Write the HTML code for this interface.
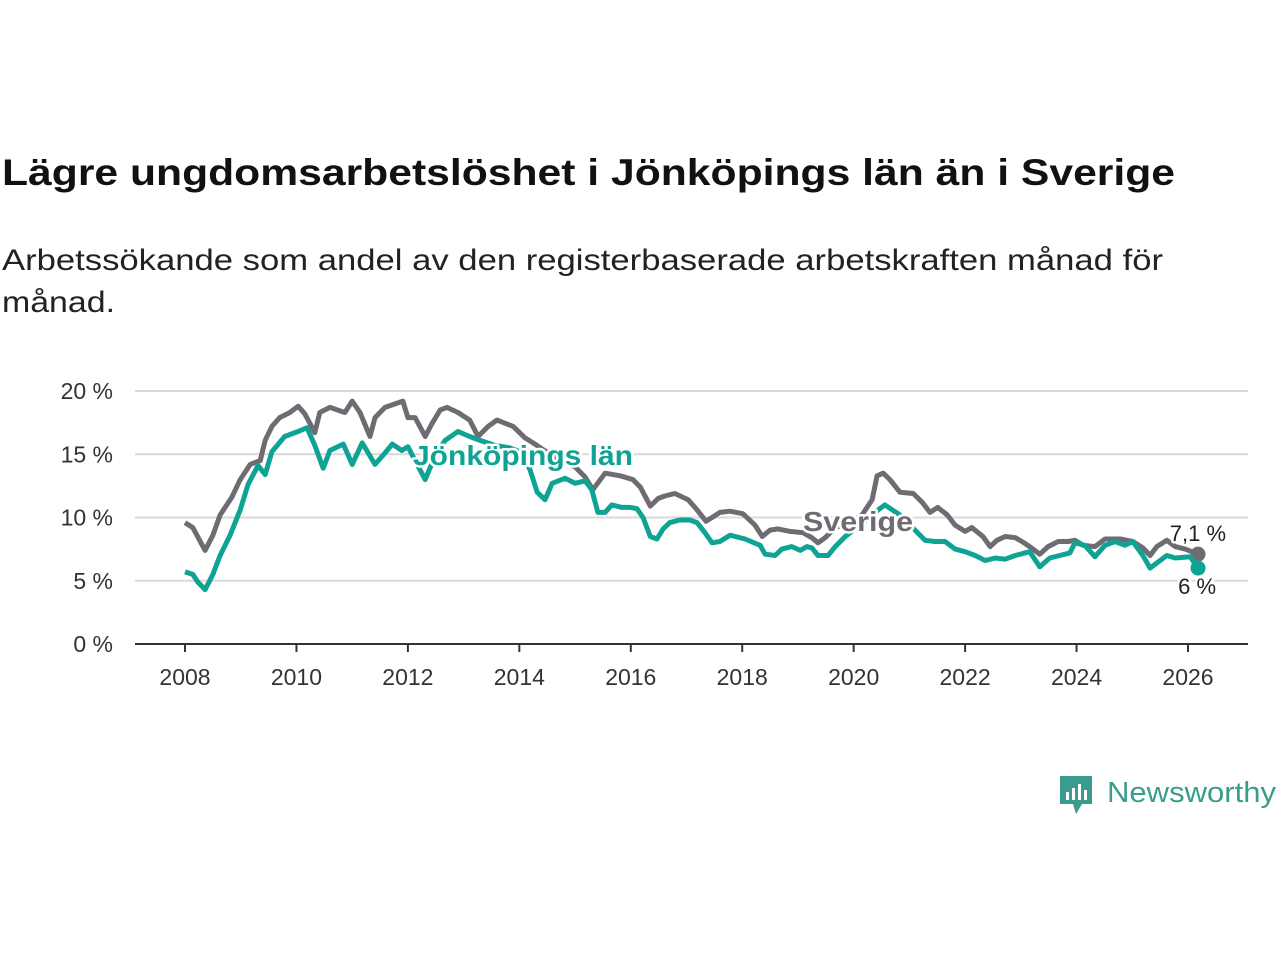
<!DOCTYPE html>
<html><head><meta charset="utf-8"><style>
html,body{margin:0;padding:0;background:#fff;}
svg{display:block;font-family:"Liberation Sans",sans-serif;}
</style></head><body>
<svg id="chart" width="1280" height="960" viewBox="0 0 1280 960" xmlns="http://www.w3.org/2000/svg">
<text x="2" y="185" font-size="37" font-weight="bold" fill="#111" textLength="1173" lengthAdjust="spacingAndGlyphs">Lägre ungdomsarbetslöshet i Jönköpings län än i Sverige</text>
<text x="2" y="270" font-size="30" fill="#222" textLength="1161" lengthAdjust="spacingAndGlyphs">Arbetssökande som andel av den registerbaserade arbetskraften månad för</text>
<text x="2" y="312" font-size="30" fill="#222" textLength="113" lengthAdjust="spacingAndGlyphs">månad.</text>
<g id="grid"></g>
<g id="xaxis"></g>
<g id="series"></g>
<g>
<path d="M1060 776 h32 v28 h-10 l-6 10 l-3 -10 h-13 z" fill="#3a9c8e"/>
<rect x="1066" y="792" width="3" height="8" fill="#fff"/><rect x="1072" y="788" width="3" height="12" fill="#fff"/><rect x="1078" y="784" width="3" height="16" fill="#fff"/><rect x="1084" y="790" width="3" height="10" fill="#fff"/>
<text x="1107" y="802" font-size="29" fill="#3a9c8e" textLength="169" lengthAdjust="spacingAndGlyphs">Newsworthy</text>
</g>
</svg>
<script>
const sverigeYears=[2008.00,2008.14,2008.36,2008.50,2008.63,2008.84,2008.99,2009.17,2009.35,2009.44,2009.56,2009.70,2009.88,2010.03,2010.15,2010.33,2010.42,2010.60,2010.87,2011.00,2011.14,2011.32,2011.41,2011.59,2011.91,2012.00,2012.13,2012.31,2012.43,2012.58,2012.70,2012.90,2013.11,2013.26,2013.44,2013.60,2013.89,2014.10,2014.28,2014.55,2014.73,2015.00,2015.18,2015.32,2015.54,2015.81,2016.04,2016.17,2016.35,2016.49,2016.61,2016.79,2017.03,2017.19,2017.35,2017.46,2017.60,2017.78,2018.01,2018.23,2018.36,2018.50,2018.64,2018.86,2019.09,2019.25,2019.36,2019.49,2019.67,2019.93,2020.15,2020.33,2020.42,2020.53,2020.65,2020.83,2021.07,2021.23,2021.37,2021.51,2021.68,2021.82,2022.00,2022.12,2022.32,2022.45,2022.57,2022.72,2022.90,2023.02,2023.16,2023.34,2023.49,2023.67,2023.85,2023.97,2024.12,2024.33,2024.51,2024.78,2025.01,2025.19,2025.32,2025.44,2025.62,2025.77,2025.95,2026.18];
const sverigeValues=[9.6,9.2,7.4,8.6,10.2,11.6,13.0,14.2,14.5,16.1,17.2,17.9,18.3,18.8,18.2,16.7,18.3,18.7,18.3,19.2,18.3,16.4,17.9,18.7,19.2,17.9,17.9,16.4,17.4,18.5,18.7,18.3,17.7,16.4,17.2,17.7,17.2,16.3,15.8,15.0,14.5,14.0,13.2,12.2,13.5,13.3,13.0,12.4,10.9,11.5,11.7,11.9,11.4,10.6,9.7,10.0,10.4,10.5,10.3,9.4,8.5,9.0,9.1,8.9,8.8,8.4,8.0,8.4,9.2,9.6,10.2,11.4,13.3,13.5,13.0,12.0,11.9,11.2,10.4,10.8,10.2,9.4,8.9,9.2,8.5,7.7,8.2,8.5,8.4,8.1,7.7,7.1,7.7,8.1,8.1,8.2,7.8,7.7,8.3,8.3,8.1,7.6,7.0,7.7,8.2,7.7,7.5,7.1];
const jkpYears=[2008.00,2008.14,2008.23,2008.36,2008.50,2008.63,2008.81,2008.99,2009.13,2009.31,2009.44,2009.56,2009.79,2010.03,2010.19,2010.33,2010.48,2010.60,2010.84,2011.00,2011.18,2011.41,2011.59,2011.72,2011.89,2012.00,2012.13,2012.31,2012.49,2012.67,2012.90,2013.11,2013.29,2013.56,2013.83,2014.01,2014.19,2014.32,2014.46,2014.59,2014.82,2015.00,2015.18,2015.30,2015.41,2015.54,2015.66,2015.84,2015.99,2016.11,2016.22,2016.35,2016.47,2016.58,2016.70,2016.88,2017.06,2017.19,2017.33,2017.46,2017.60,2017.78,2018.05,2018.32,2018.41,2018.59,2018.71,2018.89,2019.04,2019.16,2019.25,2019.36,2019.54,2019.67,2019.85,2020.11,2020.38,2020.56,2020.83,2021.10,2021.28,2021.46,2021.64,2021.82,2022.00,2022.18,2022.36,2022.54,2022.72,2022.90,2023.16,2023.34,2023.52,2023.70,2023.88,2023.97,2024.15,2024.33,2024.51,2024.69,2024.87,2025.01,2025.19,2025.32,2025.50,2025.62,2025.77,2026.04,2026.18];
const jkpValues=[5.7,5.5,4.9,4.3,5.5,7.0,8.6,10.6,12.6,14.1,13.4,15.2,16.4,16.8,17.1,15.7,13.9,15.3,15.8,14.2,15.9,14.2,15.1,15.8,15.3,15.6,14.5,13.0,14.9,16.1,16.8,16.4,16.1,15.7,15.5,15.2,13.8,12.0,11.4,12.7,13.1,12.7,12.9,12.2,10.4,10.4,11.0,10.8,10.8,10.7,10.0,8.5,8.3,9.1,9.6,9.8,9.8,9.6,8.8,8.0,8.1,8.6,8.3,7.8,7.1,7.0,7.5,7.7,7.4,7.7,7.6,7.0,7.0,7.7,8.5,9.4,10.4,11.0,10.2,9.0,8.2,8.1,8.1,7.5,7.3,7.0,6.6,6.8,6.7,7.0,7.3,6.1,6.8,7.0,7.2,8.0,7.8,6.9,7.8,8.1,7.8,8.1,7.0,6.0,6.6,7.0,6.8,6.9,6.0];
const yTicks=[0,5,10,15,20];
const yTickLabels=["0 %","5 %","10 %","15 %","20 %"];
const xTicks=[2008,2010,2012,2014,2016,2018,2020,2022,2024,2026];
const lastLabels=["7,1 %","6 %"];

const NS="http://www.w3.org/2000/svg";
const X=y=>185+(y-2008)*(1188-185)/18;
const Y=v=>644-v*(644-391)/20;
function mk(tag,attrs,parent,txt){const e=document.createElementNS(NS,tag);for(const k in attrs)e.setAttribute(k,attrs[k]);if(txt!==undefined)e.textContent=txt;parent.appendChild(e);return e;}
const grid=document.getElementById('grid'),xa=document.getElementById('xaxis'),ser=document.getElementById('series');
yTicks.forEach((t,i)=>{
  if(t>0){const l=mk('line',{x1:135,x2:1248,y1:Y(t),y2:Y(t),stroke:'#d9d9d9','stroke-width':2},grid);
  
  }
  const tx=mk('text',{x:113,y:Y(t)+8,'font-size':23,fill:'#333','text-anchor':'end'},grid,yTickLabels[i]);
  
  
});
const base=mk('line',{x1:135,x2:1248,y1:Y(0),y2:Y(0),stroke:'#333','stroke-width':2},xa);


xTicks.forEach(t=>{
  const tk=mk('line',{x1:X(t),x2:X(t),y1:Y(0),y2:Y(0)+8,stroke:'#333','stroke-width':2},xa);
  
  
  const tx=mk('text',{x:X(t),y:685,'font-size':23,fill:'#333','text-anchor':'middle'},xa,String(t));
  
  
});
function line(xs,vs,color,name){
  const d=xs.map((x,i)=>(i?'L':'M')+X(x).toFixed(1)+' '+Y(vs[i]).toFixed(1)).join(' ');
  const p=mk('path',{d:d,fill:'none',stroke:color,'stroke-width':5,'stroke-linejoin':'round'},ser);
  
  
  const n=xs.length-1;
  const c=mk('circle',{cx:X(xs[n]),cy:Y(vs[n]),r:7.5,fill:color},ser);
  
  
}
line(sverigeYears,sverigeValues,'#6e6c72','line-sverige');
line(jkpYears,jkpValues,'#0fa394','line-jonkoping');
function label(x,y,txt,color,size,bold,name,anchor,len){
  const a={x:x,y:y,'font-size':size,'font-weight':bold?'bold':'normal',fill:color,stroke:'#fff','stroke-width':5,'paint-order':'stroke','stroke-linejoin':'round','text-anchor':anchor||'start'};
  if(len){a.textLength=len;a.lengthAdjust='spacingAndGlyphs';}
  const t=mk('text',a,ser,txt);
  
  
}
label(413,465,'Jönköpings län','#0fa394',28,true,'label-jonkoping','start',220);
label(803,531,'Sverige','#6e6c72',28,true,'label-sverige','start',110);
const ns=sverigeValues.length-1,nj=jkpValues.length-1;
label(X(sverigeYears[ns])+28,Y(sverigeValues[ns])-13,lastLabels[0],'#222',22,false,'end-label-sverige','end');
label(X(jkpYears[nj])+18,Y(jkpValues[nj])+26,lastLabels[1],'#222',22,false,'end-label-jonkoping','end');
</script>
</body></html>
